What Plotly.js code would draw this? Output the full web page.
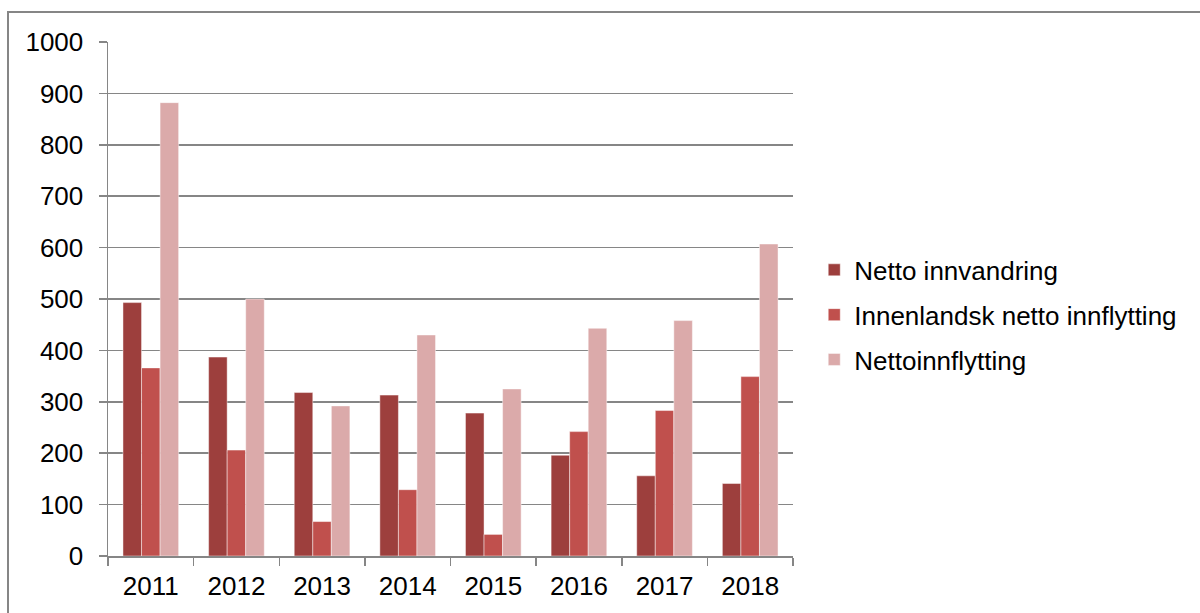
<!DOCTYPE html>
<html>
<head>
<meta charset="utf-8">
<script src="https://cdn.plot.ly/plotly-3.0.1.min.js"></script>
<style>html,body{margin:0;padding:0;background:#fff;}#chart{width:1200px;height:613px;}</style>
</head>
<body>
<div id="chart"></div>
<script>
const years = ['2011','2012','2013','2014','2015','2016','2017','2018'];
const nettoInnvandring = [493, 387, 318, 313, 278, 196, 156, 141];
const innenlandskNettoInnflytting = [366, 206, 67, 129, 42, 242, 283, 349];
const nettoinnflytting = [882, 500, 292, 430, 325, 443, 458, 607];
const seriesNames = ['Netto innvandring', 'Innenlandsk netto innflytting', 'Nettoinnflytting'];
const colors = ['#9D3F3D', '#C0504D', '#DBAAAA'];
const yTicks = [0,100,200,300,400,500,600,700,800,900,1000];

const values = [nettoInnvandring, innenlandskNettoInnflytting, nettoinnflytting];
const traces = values.map((v, i) => ({
  type: 'bar',
  x: years,
  y: v,
  name: seriesNames[i],
  legendgroup: 'g' + i,
  marker: {color: colors[i], line: {color: 'rgba(255,255,255,0.45)', width: 1}},
  hoverinfo: 'x+y+name'
}));

const gray = '#868686';
const layout = {
  width: 1200, height: 613,
  margin: {l: 108, r: 407, t: 42, b: 57, pad: 0},
  paper_bgcolor: '#fff', plot_bgcolor: '#fff',
  font: {family: 'Liberation Sans, Arial, sans-serif', size: 26, color: '#000'},
  barmode: 'group', bargap: 0.35, bargroupgap: 0,
  xaxis: {
    type: 'category', showgrid: false, showline: true, linecolor: gray, linewidth: 1.5,
    ticks: 'outside', tickson: 'boundaries', ticklen: 8, tickcolor: gray, tickwidth: 1.5,
    tickfont: {size: 26}, zeroline: false, ticklabelstandoff: 6
  },
  yaxis: {
    range: [0, 1000], tickvals: yTicks, ticktext: yTicks.map(String),
    showgrid: true, gridcolor: gray, gridwidth: 1.5,
    showline: true, linecolor: gray, linewidth: 1.5,
    ticks: 'outside', ticklen: 8, tickcolor: gray, tickwidth: 1.5,
    tickfont: {size: 26}, zeroline: false, fixedrange: true, ticklabelstandoff: 10
  },
  showlegend: true,
  legend: {
    x: 1.031, xanchor: 'left', y: 0.469, yanchor: 'middle',
    traceorder: 'grouped', tracegroupgap: 8,
    font: {size: 26, color: '#000'}, bgcolor: 'rgba(0,0,0,0)'
  },
  shapes: [{
    type: 'rect', xref: 'paper', yref: 'paper',
    x0: (8 - 108) / 685, x1: 1.8, y0: -0.3, y1: (556 - 12) / 514,
    line: {color: gray, width: 2}, fillcolor: 'rgba(0,0,0,0)', layer: 'below'
  }]
};

Plotly.newPlot('chart', traces, layout, {displayModeBar: false, staticPlot: true});
</script>
</body>
</html>
